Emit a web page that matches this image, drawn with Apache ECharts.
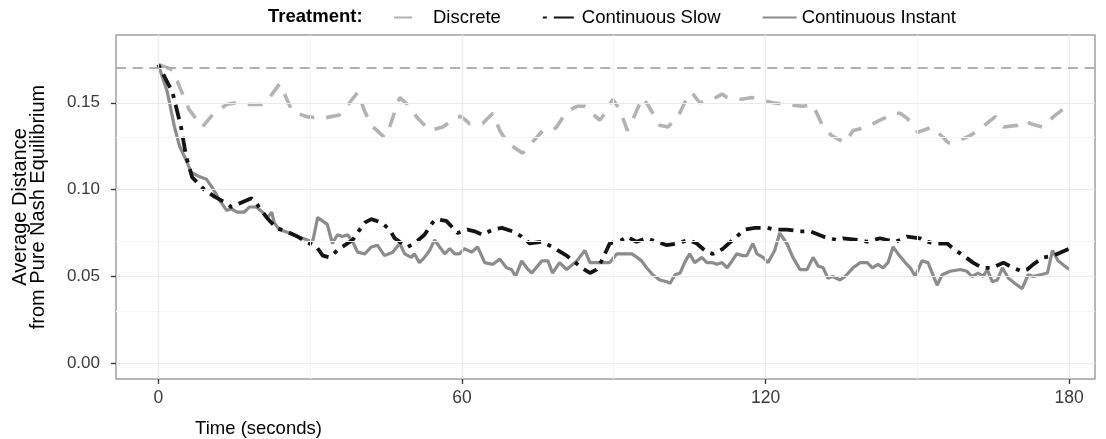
<!DOCTYPE html>
<html>
<head>
<meta charset="utf-8">
<script src="https://cdn.jsdelivr.net/npm/echarts@6/dist/echarts.min.js"></script>
<style>html,body{margin:0;padding:0;background:#fff}#c{width:1106px;height:439px}</style>
</head>
<body>
<div id="c"></div>
<script>
// ---- data (time in seconds, average distance) ----
const discrete = [[0,0.172],[2.8,0.169],[6.1,0.146],[8.7,0.136],[10.7,0.143],[13.5,0.149],[15.4,0.150],[18.0,0.149],[21.0,0.149],[22.0,0.153],[24.0,0.161],[26.5,0.145],[29.3,0.142],[32.4,0.141],[35.8,0.143],[37.8,0.150],[39.4,0.156],[40.8,0.145],[42.1,0.137],[44.7,0.130],[45.7,0.136],[47.1,0.148],[47.7,0.153],[49.3,0.149],[51.0,0.142],[53.6,0.134],[56.2,0.136],[59.1,0.142],[59.9,0.142],[61.5,0.138],[64.1,0.138],[66.1,0.144],[67.5,0.134],[69.0,0.127],[72.0,0.121],[73.8,0.127],[76.0,0.134],[77.9,0.134],[78.7,0.136],[80.7,0.145],[82.9,0.148],[84.3,0.148],[85.7,0.144],[87.2,0.140],[87.8,0.142],[89.8,0.152],[91.2,0.146],[92.7,0.134],[93.7,0.140],[95.7,0.153],[96.7,0.149],[98.5,0.140],[99.1,0.137],[100.7,0.136],[102.7,0.142],[104.0,0.150],[105.4,0.156],[107.0,0.150],[109.6,0.152],[111.4,0.155],[112.4,0.153],[115.3,0.152],[117.3,0.153],[118.3,0.152],[121.5,0.150],[124.2,0.149],[127.4,0.148],[129.4,0.149],[129.8,0.146],[131.4,0.136],[133.1,0.131],[135.7,0.127],[137.3,0.134],[140.1,0.136],[142.6,0.140],[145.6,0.144],[146.6,0.144],[148.0,0.141],[150.1,0.133],[152.9,0.136],[155.1,0.130],[156.1,0.127],[157.1,0.127],[160.4,0.131],[162.8,0.136],[165.4,0.142],[167.0,0.136],[169.7,0.137],[171.3,0.140],[172.3,0.138],[174.7,0.136],[176.9,0.142],[180,0.149]];

const continuousSlow = [[0,0.172],[2.8,0.156],[4.5,0.136],[5.5,0.119],[6.7,0.107],[9.1,0.100],[11.1,0.096],[13.6,0.092],[14.4,0.090],[16.0,0.092],[18.4,0.095],[19.4,0.092],[21.4,0.084],[23.3,0.078],[25.3,0.076],[27.5,0.073],[29.9,0.069],[31.3,0.067],[32.5,0.062],[33.8,0.061],[35.8,0.066],[38.4,0.071],[39.8,0.077],[40.8,0.081],[42.1,0.083],[44.1,0.081],[45.7,0.077],[46.7,0.072],[47.7,0.070],[49.3,0.067],[51.0,0.070],[52.6,0.074],[54.2,0.081],[55.0,0.083],[56.9,0.082],[58.2,0.078],[59.1,0.075],[61.1,0.077],[62.5,0.076],[64.1,0.074],[66.1,0.077],[67.9,0.078],[70.0,0.076],[71.8,0.073],[73.4,0.069],[75.8,0.070],[77.9,0.067],[80.7,0.062],[83.7,0.055],[85.3,0.052],[86.6,0.054],[87.6,0.059],[89.2,0.069],[91.6,0.071],[92.6,0.073],[94.5,0.070],[96.5,0.072],[98.5,0.070],[100.5,0.068],[102.5,0.069],[104.7,0.071],[106.4,0.069],[108.4,0.064],[109.6,0.063],[111.6,0.066],[113.5,0.071],[115.9,0.077],[117.9,0.078],[120.3,0.078],[121.8,0.077],[124.2,0.077],[126.8,0.076],[128.8,0.076],[131.4,0.073],[134.1,0.071],[135.3,0.072],[138.3,0.071],[140.1,0.070],[142.6,0.072],[145.6,0.070],[146.6,0.071],[148.0,0.073],[150.5,0.072],[151.9,0.070],[153.9,0.069],[155.9,0.069],[157.1,0.066],[159.1,0.062],[161.0,0.058],[162.8,0.055],[164.8,0.055],[167.0,0.058],[168.9,0.055],[170.7,0.053],[171.7,0.054],[172.9,0.057],[174.9,0.061],[176.9,0.062],[180,0.066]];

const continuousInstant = [[0,0.172],[1.8,0.156],[3.2,0.136],[4.2,0.125],[5.5,0.117],[6.5,0.110],[7.7,0.108],[9.5,0.106],[10.7,0.101],[12.1,0.094],[13.5,0.088],[14.4,0.089],[15.6,0.087],[17.0,0.087],[18.0,0.090],[19.4,0.090],[20.6,0.087],[21.6,0.084],[22.4,0.087],[22.9,0.081],[23.9,0.077],[25.9,0.075],[27.5,0.073],[29.5,0.071],[30.5,0.070],[31.5,0.084],[33.4,0.080],[34.4,0.069],[35.4,0.074],[36.4,0.073],[37.4,0.074],[38.4,0.070],[39.4,0.064],[40.8,0.063],[42.1,0.067],[43.3,0.068],[44.7,0.062],[46.3,0.064],[47.7,0.069],[48.7,0.063],[50.0,0.061],[50.6,0.063],[51.6,0.058],[52.6,0.061],[53.6,0.065],[54.6,0.071],[55.6,0.067],[56.6,0.063],[57.6,0.066],[58.6,0.063],[59.5,0.063],[60.5,0.066],[61.9,0.064],[63.1,0.067],[64.5,0.058],[66.1,0.057],[67.5,0.060],[68.8,0.055],[69.8,0.054],[70.6,0.050],[71.8,0.059],[72.8,0.055],[73.8,0.052],[75.8,0.059],[77.0,0.059],[77.9,0.052],[79.3,0.058],[80.7,0.054],[82.7,0.059],[84.3,0.065],[85.3,0.058],[86.6,0.058],[87.8,0.058],[89.2,0.058],[90.6,0.063],[92.2,0.063],[93.6,0.063],[94.6,0.061],[95.5,0.059],[96.5,0.055],[97.7,0.051],[99.1,0.048],[100.5,0.047],[101.1,0.046],[102.1,0.051],[103.1,0.052],[104.0,0.058],[105.0,0.063],[106.0,0.058],[107.4,0.061],[108.4,0.058],[109.4,0.058],[110.4,0.057],[111.4,0.058],[112.4,0.055],[113.4,0.059],[114.3,0.063],[115.5,0.062],[116.3,0.062],[117.5,0.069],[118.3,0.063],[119.5,0.061],[120.5,0.058],[121.8,0.065],[122.8,0.075],[124.2,0.069],[125.4,0.061],[126.8,0.054],[128.2,0.054],[129.4,0.061],[130.4,0.056],[131.4,0.055],[132.3,0.049],[133.3,0.050],[134.7,0.048],[135.7,0.050],[137.3,0.055],[138.7,0.058],[140.1,0.058],[141.1,0.055],[142.2,0.057],[143.2,0.055],[144.2,0.058],[145.2,0.067],[146.2,0.063],[147.6,0.058],[148.6,0.055],[149.6,0.050],[150.9,0.059],[152.1,0.058],[153.9,0.045],[154.9,0.051],[156.5,0.053],[158.5,0.054],[159.8,0.053],[160.8,0.050],[162.0,0.052],[163.0,0.050],[163.8,0.054],[164.8,0.047],[165.8,0.048],[166.8,0.055],[168.0,0.049],[169.3,0.046],[170.7,0.043],[171.9,0.051],[172.9,0.050],[174.3,0.051],[175.7,0.052],[176.7,0.065],[177.8,0.059],[180,0.054]];

const nashReference = 0.172;
const xTicks = [0, 60, 120, 180];
const xMinorTicks = [30, 90, 150];
const yTicks = [0, 0.05, 0.10, 0.15];
const yMinorTicks = [0.025, 0.075, 0.125, 0.175];
const seriesNames = ['Discrete', 'Continuous Slow', 'Continuous Instant'];

// ---- chart ----
const chart = echarts.init(document.getElementById('c'), null, {renderer: 'canvas'});
const FONT = 'Liberation Sans, Arial, Helvetica, sans-serif';

const gridLines = [];
xTicks.forEach(v => gridLines.push({xAxis: v, lineStyle: {color: '#ebebeb', width: 1.2, type: 'solid'}}));
xMinorTicks.forEach(v => gridLines.push({xAxis: v, lineStyle: {color: '#f5f5f5', width: 1, type: 'solid'}}));
yTicks.forEach(v => gridLines.push({yAxis: v, lineStyle: {color: '#ebebeb', width: 1.2, type: 'solid'}}));
yMinorTicks.forEach(v => gridLines.push({yAxis: v, lineStyle: {color: '#f5f5f5', width: 1, type: 'solid'}}));

chart.setOption({
  animation: false,
  backgroundColor: '#ffffff',
  textStyle: {fontFamily: FONT},
  title: {
    text: 'Treatment:',
    left: 263, top: 2,
    textStyle: {fontFamily: FONT, fontSize: 18.5, fontWeight: 'bold', color: '#000'}
  },
  legend: {
    data: [
      {name: seriesNames[0], lineStyle: {type: [18, 40]}},
      {name: seriesNames[1], lineStyle: {type: [4, 7, 20, 7]}},
      {name: seriesNames[2]}
    ],
    left: 388, top: 3,
    itemWidth: 34, itemHeight: 14, itemGap: 41,
    itemStyle: {opacity: 0},
    textStyle: {fontFamily: FONT, fontSize: 18.5, color: '#000'}
  },
  grid: {
    left: 116, right: 11, top: 35, bottom: 60,
    outerBoundsMode: 'none', containLabel: false,
    show: true, borderColor: '#a0a0a0', borderWidth: 1.5, backgroundColor: 'transparent'
  },
  xAxis: {
    type: 'value', min: -8.36, max: 185.1,
    name: 'Time (seconds)', nameLocation: 'middle', nameGap: 40,
    nameTextStyle: {fontFamily: FONT, fontSize: 18.5, color: '#000', padding: [0, 694, 0, 0]},
    axisLine: {show: false, onZero: false},
    axisTick: {show: true, inside: false, customValues: xTicks, length: 5, lineStyle: {color: '#333', width: 1.3}},
    axisLabel: {customValues: xTicks, margin: 10, fontSize: 17.5, color: '#3a3a3a', fontFamily: FONT},
    splitLine: {show: false}, minorSplitLine: {show: false}
  },
  yAxis: {
    type: 'value', min: -0.009, max: 0.189,
    name: 'Average Distance\nfrom Pure Nash Equilibrium', nameLocation: 'middle', nameGap: 69,
    nameTextStyle: {fontFamily: FONT, fontSize: 20, color: '#000', lineHeight: 18},
    axisLine: {show: false, onZero: false},
    axisTick: {show: true, inside: false, customValues: yTicks, length: 5, lineStyle: {color: '#333', width: 1.3}},
    axisLabel: {customValues: yTicks, margin: 16, fontSize: 17, color: '#3a3a3a', fontFamily: FONT,
      formatter: v => v.toFixed(2)},
    splitLine: {show: false}, minorSplitLine: {show: false}
  },
  series: [
    {
      type: 'line', name: '__grid', data: [], z: 0, silent: true,
      markLine: {silent: true, symbol: 'none', label: {show: false}, animation: false,
        data: gridLines.concat([{yAxis: nashReference, lineStyle: {color: '#999999', width: 1.5, type: [10, 6.7]}}])}
    },
    {
      type: 'line', name: seriesNames[0], data: discrete, symbol: 'none', z: 2,
      lineStyle: {color: '#b3b3b3', width: 3.6, type: [15, 12]}, itemStyle: {color: '#b3b3b3'}
    },
    {
      type: 'line', name: seriesNames[2], data: continuousInstant, symbol: 'none', z: 3,
      lineStyle: {color: '#8c8c8c', width: 3.2, type: 'solid'}, itemStyle: {color: '#8c8c8c'}
    },
    {
      type: 'line', name: seriesNames[1], data: continuousSlow, symbol: 'none', z: 4,
      lineStyle: {color: '#141414', width: 3.8, type: [4, 7, 15, 7]}, itemStyle: {color: '#141414'}
    }
  ]
});
</script>
</body>
</html>
